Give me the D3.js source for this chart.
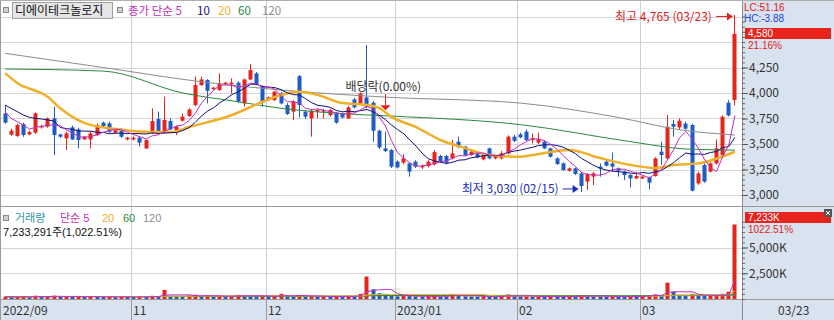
<!DOCTYPE html>
<html>
<head>
<meta charset="utf-8">
<script src="https://cdnjs.cloudflare.com/ajax/libs/d3/7.8.5/d3.min.js"></script>
<style>
  body { margin: 0; background: #fff; }
  text { font-family: "Noto Sans CJK KR", "Noto Sans", sans-serif; }
  text.tag { font-family: "Liberation Sans", "DejaVu Sans", sans-serif; font-size: 10px; }
  text.vleg { font-family: "Liberation Sans", "Noto Sans CJK KR", sans-serif; font-size: 11px; }
</style>
</head>
<body>
<div id="chart"></div>
<script>
// trading days, 2022/09/29 - 2023/03/23
var dates = [
  "09/29","09/30",
  "10/04","10/05","10/06","10/07","10/11","10/12","10/13","10/14","10/17","10/18","10/19","10/20","10/21","10/24","10/25","10/26","10/27","10/28","10/31",
  "11/01","11/02","11/03","11/04","11/07","11/08","11/09","11/10","11/11","11/14","11/15","11/16","11/17","11/18","11/21","11/22","11/23","11/24","11/25","11/28","11/29","11/30",
  "12/01","12/02","12/05","12/06","12/07","12/08","12/09","12/12","12/13","12/14","12/15","12/16","12/19","12/20","12/21","12/22","12/23","12/26","12/27","12/28","12/29",
  "01/02","01/03","01/04","01/05","01/06","01/09","01/10","01/11","01/12","01/13","01/16","01/17","01/18","01/19","01/20","01/25","01/26","01/27","01/30","01/31",
  "02/01","02/02","02/03","02/06","02/07","02/08","02/09","02/10","02/13","02/14","02/15","02/16","02/17","02/20","02/21","02/22","02/23","02/24","02/27","02/28",
  "03/02","03/03","03/06","03/07","03/08","03/09","03/10","03/13","03/14","03/15","03/16","03/17","03/20","03/21","03/22","03/23"
];

var opens = [
  3800,3591,3578,3696,3594,3611,3663,3670,3751,3594,3555,3663,3643,3545,3545,3588,3709,3702,3611,3643,
  3545,3545,3562,3457,3604,3745,3611,3725,3637,3728,3774,3882,4078,4127,4039,4029,4084,4084,4101,3898,
  4133,4192,4062,3931,3931,3996,3882,3817,4166,3817,3751,3817,3817,3784,3800,3794,3751,3938,3898,3957,
  3905,3630,3457,3441,3327,3317,3310,3327,3271,3284,3300,3382,3382,3359,3523,3474,3392,3408,3349,3457,
  3359,3359,3408,3572,3595,3621,3539,3514,3523,3457,3359,3310,3238,3261,3212,3131,3180,3278,3327,3310,
  3261,3229,3196,3163,3163,3173,3186,3425,3359,3696,3663,3700,3686,3114,3294,3229,3310,3392,3905,3931
];
var highs = [
  3882,3650,3700,3710,3630,3810,3690,3760,3866,3600,3620,3680,3660,3580,3620,3700,3720,3720,3650,3655,
  3570,3575,3570,3545,3849,3817,3964,3750,3680,3800,3850,4160,4160,4135,4060,4192,4110,4143,4115,4140,
  4284,4205,4075,3965,4020,4010,3900,3930,4175,3830,3840,3845,3845,3845,3815,3805,3870,3950,4005,4470,
  3920,3640,3620,3450,3340,3400,3320,3340,3300,3340,3441,3395,3395,3539,3572,3480,3440,3420,3410,3465,
  3390,3430,3585,3590,3610,3644,3604,3611,3530,3465,3370,3320,3270,3270,3225,3215,3225,3310,3340,3415,
  3270,3240,3205,3229,3190,3180,3370,3523,3784,3735,3751,3720,3700,3225,3310,3320,3545,3780,3930,4765
];
var lows = [
  3700,3580,3570,3570,3585,3600,3650,3660,3392,3560,3441,3540,3457,3540,3457,3580,3660,3610,3600,3560,
  3535,3535,3474,3450,3595,3600,3600,3635,3588,3720,3765,3870,4070,3898,4030,4020,4075,3996,3905,3866,
  4125,4075,3866,3920,3920,3890,3785,3735,3761,3745,3572,3751,3751,3770,3700,3750,3745,3850,3890,3850,
  3522,3450,3420,3265,3260,3300,3180,3265,3255,3270,3290,3320,3300,3350,3460,3380,3385,3360,3340,3350,
  3350,3350,3400,3520,3555,3530,3506,3500,3450,3365,3295,3235,3230,3195,3030,3049,3098,3180,3280,3229,
  3180,3147,3075,3155,3155,3055,3180,3294,3350,3572,3640,3640,3035,3100,3120,3220,3300,3380,3770,3880
];
var closes = [
  3709,3630,3686,3588,3617,3800,3676,3751,3588,3572,3604,3545,3539,3572,3604,3686,3676,3620,3643,3571,
  3562,3562,3513,3539,3725,3611,3735,3643,3670,3768,3839,4078,4133,4022,4052,4094,4101,4101,3915,4133,
  4225,4084,3905,3957,4013,3898,3794,3915,3882,3768,3826,3833,3833,3833,3709,3761,3859,3859,3996,3866,
  3630,3467,3431,3278,3271,3359,3229,3278,3284,3327,3420,3327,3317,3408,3470,3392,3425,3369,3400,3359,
  3380,3408,3572,3530,3565,3539,3555,3547,3457,3376,3304,3245,3261,3206,3088,3206,3212,3261,3287,3278,
  3238,3196,3163,3186,3180,3121,3359,3392,3670,3670,3728,3650,3042,3212,3131,3310,3457,3767,3780,4580
];
// volume, thousand shares
var volumes = [
  230,190,210,250,180,320,200,240,330,210,260,220,240,190,250,230,200,210,180,220,
  200,190,230,210,310,260,880,300,280,250,330,420,280,350,220,300,240,260,400,380,
  270,250,330,230,260,500,300,260,380,240,300,220,230,210,280,230,300,260,500,2180,
  950,560,490,320,260,300,280,240,230,260,330,250,240,490,330,260,240,230,250,240,
  230,260,430,280,240,260,230,250,220,270,240,230,250,240,330,300,260,240,230,250,
  240,230,260,220,300,380,450,380,1590,710,400,350,500,400,300,300,350,500,707,7233
];
var volumeToday = "7,233,291주(1,022.51%)";

// moving averages of close: [day index, price]
var ma5Lead = [[0,3816],[1,3751],[2,3719],[3,3686]];
var ma10Lead = [[0,3882],[1,3849],[2,3817],[3,3784],[4,3761],[5,3751],[6,3745],[7,3735],[8,3725]];
var ma20Pts = [[0,4195],[2,4098],[7,3960],[9,3850],[13,3705],[18,3647],[24,3617],[27,3617],[30,3666],[37,3784],[42,3914],[45,3980],[48,4012],[51,3980],[55,3901],[59,3882],[61,3852],[63,3766],[67,3666],[71,3539],[75,3460],[79,3392],[84,3375],[86,3392],[92,3441],[97,3362],[102,3294],[106,3264],[109,3294],[113,3310],[119,3424]];
var ma60Pts = [[0,4235],[16,4215],[29,4000],[38,3914],[45,3850],[56,3794],[63,3774],[84,3690],[102,3523],[111,3451],[119,3440]];
var ma120Pts = [[0,4389],[16,4250],[32,4110],[45,4029],[62,3960],[84,3901],[100,3760],[110,3640],[119,3588]];

var priceTicks = [3000, 3250, 3500, 3750, 4000, 4250, 4500, 4750];
var priceLabels = [3000, 3250, 3500, 3750, 4000, 4250];
var volumeLabels = [2500, 5000];
var monthStarts = ["09/29", "11/01", "12/01", "01/02", "02/01", "03/02"];
var monthLabels = ["2022/09", "11", "12", "2023/01", "02", "03"];

var svgWidth = 834, svgHeight = 320;
var plotRight = 742;
var upColor = "#e8231c", downColor = "#1f5bc6";

var svg = d3.select("#chart").append("svg")
    .attr("width", svgWidth)
    .attr("height", svgHeight);

var x = d3.scaleBand().domain(dates).range([2, 738]).paddingInner(0.35).paddingOuter(0.175);
var step = x.step();
var cx = d => x(d) + x.bandwidth() / 2;
var cellLeft = d => x(d) - step * 0.175;
var y = d3.scaleLinear().domain([3000, 4750]).range([195, 16.5]);
var yv = d3.scaleLinear().domain([0, 5000]).range([299, 247.5]);

// backgrounds
svg.append("rect").attr("width", svgWidth).attr("height", svgHeight).attr("fill", "#fff");
svg.append("rect").attr("x", plotRight).attr("y", 0).attr("width", svgWidth - plotRight).attr("height", svgHeight).attr("fill", "#d9e3ef");
svg.append("rect").attr("x", 0).attr("y", 300).attr("width", plotRight).attr("height", 20).attr("fill", "#d9e3ef");

var defs = svg.append("defs");
defs.append("clipPath").attr("id", "clipPrice").append("rect").attr("x", 1).attr("y", 0).attr("width", plotRight - 1).attr("height", 206);
defs.append("clipPath").attr("id", "clipVol").append("rect").attr("x", 1).attr("y", 207).attr("width", plotRight - 1).attr("height", 92);

// grid
svg.append("g").selectAll("line").data(priceTicks).enter().append("line")
    .attr("x1", 1).attr("x2", plotRight).attr("y1", d => Math.round(y(d)) + 0.5).attr("y2", d => Math.round(y(d)) + 0.5)
    .attr("stroke", "#d4d4d4");
svg.append("g").selectAll("line").data(volumeLabels).enter().append("line")
    .attr("x1", 1).attr("x2", plotRight).attr("y1", d => Math.round(yv(d)) + 0.5).attr("y2", d => Math.round(yv(d)) + 0.5)
    .attr("stroke", "#d4d4d4");
svg.append("g").selectAll("line").data(monthStarts.slice(1)).enter().append("line")
    .attr("x1", d => Math.round(cellLeft(d)) + 0.5).attr("x2", d => Math.round(cellLeft(d)) + 0.5)
    .attr("y1", 0).attr("y2", 300).attr("stroke", "#cfcfcf");
svg.append("g").selectAll("line").data(monthStarts.slice(1)).enter().append("line")
    .attr("x1", d => Math.round(cellLeft(d)) + 0.5).attr("x2", d => Math.round(cellLeft(d)) + 0.5)
    .attr("y1", 300).attr("y2", 320).attr("stroke", "#9a9a9a");

// frame lines
svg.append("line").attr("x1", 0).attr("x2", svgWidth).attr("y1", 206.5).attr("y2", 206.5).attr("stroke", "#9a9a9a");
svg.append("line").attr("x1", 0).attr("x2", svgWidth).attr("y1", 299.5).attr("y2", 299.5).attr("stroke", "#9a9a9a");
svg.append("line").attr("x1", plotRight + 0.5).attr("x2", plotRight + 0.5).attr("y1", 0).attr("y2", svgHeight).attr("stroke", "#8a8a8a");
svg.append("line").attr("x1", 0.5).attr("x2", 0.5).attr("y1", 0).attr("y2", svgHeight).attr("stroke", "#9a9a9a");
svg.append("line").attr("x1", 0).attr("x2", svgWidth).attr("y1", 0.5).attr("y2", 0.5).attr("stroke", "#b0b0b0");

// candles
var idx = d3.range(dates.length);
var price = svg.append("g").attr("clip-path", "url(#clipPrice)");
var candle = price.selectAll("g.c").data(idx).enter().append("g").attr("class", "c");
candle.append("line")
    .attr("x1", i => Math.floor(cx(dates[i])) + 0.5).attr("x2", i => Math.floor(cx(dates[i])) + 0.5)
    .attr("y1", i => y(highs[i])).attr("y2", i => y(lows[i]))
    .attr("stroke", i => closes[i] >= opens[i] ? upColor : downColor);
candle.append("rect")
    .attr("x", i => Math.floor(cx(dates[i])) - 1.5)
    .attr("width", 4)
    .attr("y", i => y(Math.max(opens[i], closes[i])))
    .attr("height", i => Math.max(1, y(Math.min(opens[i], closes[i])) - y(Math.max(opens[i], closes[i]))))
    .attr("fill", i => closes[i] >= opens[i] ? upColor : downColor);

// moving averages
function movingAvg(values, n) {
    return values.map(function(v, i) {
        var s = values.slice(Math.max(0, i - n + 1), i + 1);
        return d3.mean(s);
    });
}
var ma5 = movingAvg(closes, 5).map((v, i) => [i, v]).slice(ma5Lead.length);
var ma10 = movingAvg(closes, 10).map((v, i) => [i, v]).slice(ma10Lead.length);
var line = d3.line().x(d => cx(dates[d[0]])).y(d => y(d[1]));

price.append("path").datum(ma120Pts).attr("d", line.curve(d3.curveMonotoneX)).attr("fill", "none").attr("stroke", "#8c8c8c").attr("stroke-width", 1);
price.append("path").datum(ma60Pts).attr("d", line.curve(d3.curveMonotoneX)).attr("fill", "none").attr("stroke", "#2a8a3e").attr("stroke-width", 1);
price.append("path").datum(ma20Pts).attr("d", line.curve(d3.curveMonotoneX)).attr("fill", "none").attr("stroke", "#efb028").attr("stroke-width", 2.5);
price.append("path").datum(ma10Lead.concat(ma10)).attr("d", line.curve(d3.curveLinear)).attr("fill", "none").attr("stroke", "#10107a").attr("stroke-width", 1);
price.append("path").datum(ma5Lead.concat(ma5)).attr("d", line.curve(d3.curveLinear)).attr("fill", "none").attr("stroke", "#c22ec2").attr("stroke-width", 1);

// volume
var vol = svg.append("g").attr("clip-path", "url(#clipVol)");
vol.selectAll("rect").data(idx).enter().append("rect")
    .attr("x", i => Math.floor(cx(dates[i])) - 1.5)
    .attr("width", 4)
    .attr("y", i => yv(volumes[i]))
    .attr("height", i => 299 - yv(volumes[i]))
    .attr("fill", i => (i > 0 && volumes[i] < volumes[i - 1]) ? downColor : upColor);
var vline = d3.line().x((d, i) => cx(dates[i])).y(d => yv(d));
[[120, "#8c8c8c"], [60, "#2a8a3e"], [20, "#efb028"], [5, "#c22ec2"]].forEach(function(m) {
    vol.append("path").datum(movingAvg(volumes, m[0])).attr("d", vline)
        .attr("fill", "none").attr("stroke", m[1]).attr("stroke-width", 1);
});

// right axes
var pAxis = svg.append("g").attr("transform", `translate(${plotRight},0)`);
pAxis.call(d3.axisRight(y).tickValues(d3.range(3000, 4751, 50)).tickSize(3).tickFormat(""));
pAxis.call(g => g.select(".domain").remove());
pAxis.selectAll("line").attr("stroke", "#666");
var pMajor = svg.append("g").attr("transform", `translate(${plotRight},0)`)
    .call(d3.axisRight(y).tickValues(priceLabels).tickSize(6).tickPadding(1).tickFormat(d3.format(",")));
pMajor.select(".domain").remove();
pMajor.selectAll("line").attr("stroke", "#555");
pMajor.selectAll("text").attr("fill", "#333").style("font-size", "12px");

var vAxis = svg.append("g").attr("transform", `translate(${plotRight},0)`);
vAxis.call(d3.axisRight(yv).tickValues(d3.range(0, 7501, 500)).tickSize(3).tickFormat(""));
vAxis.call(g => g.select(".domain").remove());
vAxis.selectAll("line").attr("stroke", "#666");
var vMajor = svg.append("g").attr("transform", `translate(${plotRight},0)`)
    .call(d3.axisRight(yv).tickValues(volumeLabels).tickSize(6).tickPadding(1).tickFormat(d => d3.format(",")(d) + "K"));
vMajor.select(".domain").remove();
vMajor.selectAll("line").attr("stroke", "#555");
vMajor.selectAll("text").attr("fill", "#333").style("font-size", "12px");

// month labels
svg.append("g").selectAll("text").data(monthStarts).enter().append("text")
    .attr("x", (d, i) => i === 0 ? 3 : Math.round(cellLeft(d)) + 2)
    .attr("y", 315).attr("fill", "#333").style("font-size", "12px")
    .text((d, i) => monthLabels[i]);
svg.append("text").attr("x", 778).attr("y", 315).attr("fill", "#333").style("font-size", "12px").text(dates[dates.length - 1]);

// last price labels
var last = dates.length - 1;
svg.append("text").attr("class", "tag").attr("x", 744).attr("y", 10.5).attr("fill", "#e0201c").text("LC:51.16");
svg.append("text").attr("class", "tag").attr("x", 744).attr("y", 22).attr("fill", "#1a44d8").text("HC:-3.88");
svg.append("rect").attr("x", 745).attr("y", 28).attr("width", 86).attr("height", 11).attr("fill", "#e8231c");
svg.append("text").attr("class", "tag").attr("x", 748).attr("y", 37.3).attr("fill", "#fff").text(d3.format(",")(closes[last]));
svg.append("text").attr("class", "tag").attr("x", 748).attr("y", 49).attr("fill", "#e0201c").text("21.16%");

svg.append("rect").attr("x", 745).attr("y", 212).attr("width", 86).attr("height", 11).attr("fill", "#e8231c");
svg.append("text").attr("class", "tag").attr("x", 748).attr("y", 221.3).attr("fill", "#fff").text(d3.format(",")(volumes[last]) + "K");
svg.append("text").attr("class", "tag").attr("x", 748).attr("y", 233).attr("fill", "#e0201c").text("1022.51%");
svg.append("rect").attr("x", 824).attr("y", 209).attr("width", 8).attr("height", 8).attr("fill", "#555");
svg.append("path").attr("d", "M826,211L830,215M830,211L826,215").attr("stroke", "#fff");

// legends
function icon(px, py) {
    svg.append("rect").attr("x", px + 0.5).attr("y", py + 0.5).attr("width", 5).attr("height", 5).attr("fill", "#d0d0d0").attr("stroke", "#8a8a8a");
}
icon(3, 7);
svg.append("rect").attr("x", 12.5).attr("y", 2.5).attr("width", 100).attr("height", 16).attr("fill", "#e6e6e6").attr("stroke", "#a0a0a0");
svg.append("text").attr("x", 15).attr("y", 15).attr("fill", "#111").style("font-size", "12px").text("디에이테크놀로지");
icon(117, 7);
var priceLegend = [["종가 단순 5", 128, "#c22ec2"], ["10", 197, "#10107a"], ["20", 218, "#efb028"], ["60", 238, "#2a8a3e"], ["120", 262, "#8c8c8c"]];
svg.append("g").selectAll("text").data(priceLegend).enter().append("text")
    .attr("x", d => d[1]).attr("y", 15).attr("fill", d => d[2]).style("font-size", "11.5px").text(d => d[0]);

icon(3, 215);
var volLegend = [["거래량", 15, "#2f9aa8"], ["단순 5", 60, "#c22ec2"], ["20", 102, "#efb028"], ["60", 123, "#2a8a3e"], ["120", 143, "#8c8c8c"]];
svg.append("g").selectAll("text").data(volLegend).enter().append("text").attr("class", "vleg")
    .attr("x", d => d[1]).attr("y", 222).attr("fill", d => d[2]).text(d => d[0]);
svg.append("text").attr("class", "vleg").attr("x", 3).attr("y", 236).attr("fill", "#111").text(volumeToday);

// annotations
var hiX = cx(dates[last]);
svg.append("text").attr("x", hiX - 23).attr("y", y(4765) + 6).attr("text-anchor", "end").attr("fill", "#e0201c").style("font-size", "12px").text("최고 4,765 (03/23)");
svg.append("line").attr("x1", hiX - 19).attr("x2", hiX - 6).attr("y1", y(4765) + 1.5).attr("y2", y(4765) + 1.5).attr("stroke", "#e0201c");
svg.append("path").attr("d", `M${hiX - 2},${y(4765) + 1.5}L${hiX - 8},${y(4765) - 2.5}L${hiX - 8},${y(4765) + 5.5}Z`).attr("fill", "#e0201c");

var loI = dates.indexOf("02/15");
var loX = cx(dates[loI]);
svg.append("text").attr("x", loX - 23).attr("y", y(3030) + 1).attr("text-anchor", "end").attr("fill", "#1a2fb8").style("font-size", "12px").text("최저 3,030 (02/15)");
svg.append("line").attr("x1", loX - 19).attr("x2", loX - 8).attr("y1", y(3030) - 3).attr("y2", y(3030) - 3).attr("stroke", "#1a2fb8");
svg.append("path").attr("d", `M${loX - 3},${y(3030) - 3}L${loX - 9},${y(3030) - 7}L${loX - 9},${y(3030) + 1}Z`).attr("fill", "#1a2fb8");

var divI = dates.indexOf("12/28");
var divX = Math.floor(cx(dates[divI])) + 0.5;
svg.append("text").attr("x", divX - 40).attr("y", y(4000) - 2).attr("fill", "#333").style("font-size", "12px").text("배당락(0.00%)");
svg.append("line").attr("x1", divX).attr("x2", divX).attr("y1", y(3990)).attr("y2", y(3880)).attr("stroke", "#e0201c");
svg.append("path").attr("d", `M${divX - 5},${y(3880)}L${divX + 5},${y(3880)}L${divX},${y(3830)}Z`).attr("fill", "#e0201c");
</script>
</body>
</html>
